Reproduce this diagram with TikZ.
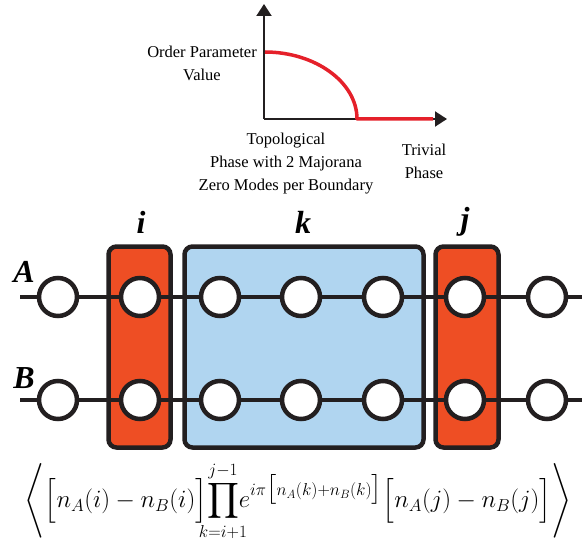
\documentclass[tikz,border=0pt]{standalone}
\usepackage{amsmath}
\usepackage{mathtools}
\usepackage{fontspec}
\setmainfont{Liberation Serif}
\usetikzlibrary{arrows.meta}
\definecolor{cellred}{HTML}{EE4E24}
\definecolor{cellblue}{HTML}{B0D5F0}
\definecolor{curvered}{HTML}{E5202A}
\definecolor{ink}{HTML}{231F20}

\begin{document}
\begin{tikzpicture}[x=1pt,y=-1pt,
  site/.style={circle,draw=ink,line width=4.5pt,fill=white,minimum size=38pt,inner sep=0pt},
  cell/.style={draw=ink,line width=4.5pt,rounded corners=8pt,minimum height=201pt,inner sep=0pt},
  wire/.style={ink,line width=4pt},
  axis/.style={ink,line width=2pt,-{Triangle[width=15pt,length=12pt]}},
  tag/.style={font=\fontsize{32}{32}\selectfont\bfseries\itshape},
  txt/.style={font=\fontsize{16.5}{23}\selectfont,align=center}]
\useasboundingbox (0,0) rectangle (582,543);
% order parameter plot
\coordinate (O) at (264,119);
\coordinate (ytip) at (264,4);
\coordinate (xtip) at (447,119);
\draw[axis] (O) -- (ytip);
\draw[axis] (O) -- (xtip);
\coordinate (top) at (265,52);
\coordinate (Tc) at (357,119);
\coordinate (tail) at (433,119);
\draw[curvered,line width=3.5pt,line join=round] (top) .. controls (315,52) and (357,82) .. (Tc) -- (tail);
\node[txt] (opv) at (202,63) {Order Parameter\\Value};
\node[txt] (topo) at (286,164) {Topological\\Phase with 2 Majorana\\Zero Modes per Boundary};
\node[txt] (triv) at (424,161) {Trivial\\Phase};
% cells
\node[cell,fill=cellred,minimum width=62pt] (celli) at (139.5,347) {};
\node[cell,fill=cellblue,minimum width=239pt] (cellk) at (304,347) {};
\node[cell,fill=cellred,minimum width=63pt] (cellj) at (467,347) {};
\node[tag] (labi) at (141,222) {i};
\node[tag] (labk) at (303,222) {k};
\node[tag] (labj) at (465,222) {j};
\node[tag] (labA) at (24,272) {A};
\node[tag] (labB) at (24,378) {B};
% chains
\coordinate (A0) at (20,297);
\coordinate (A8) at (582,297);
\coordinate (B0) at (20,400);
\coordinate (B8) at (582,400);
\foreach \n/\x in {1/58,2/140,3/220,4/301,5/383,6/465,7/547} {
  \node[site] (A\n) at (\x,297) {};
  \node[site] (B\n) at (\x,400) {};
}
\draw[wire] (A0) -- (A1) -- (A2) -- (A3) -- (A4) -- (A5) -- (A6) -- (A7) -- (A8);
\draw[wire] (B0) -- (B1) -- (B2) -- (B3) -- (B4) -- (B5) -- (B6) -- (B7) -- (B8);
% correlator
\node[inner sep=0pt] (corr) at (298,501) {\fontsize{25}{25}\selectfont$\displaystyle
  \left\langle\mathopen{\Big[}n_A(i)-n_B(i)\mathclose{\Big]}\!\prod_{\mathclap{k=i+1}}^{j-1}\!
  e^{i\pi\mathopen{\big[}n_A(k)+n_B(k)\mathclose{\big]}}\mathopen{\Big[}n_A(j)-n_B(j)\mathclose{\Big]}\right\rangle$};
\end{tikzpicture}
\end{document}
